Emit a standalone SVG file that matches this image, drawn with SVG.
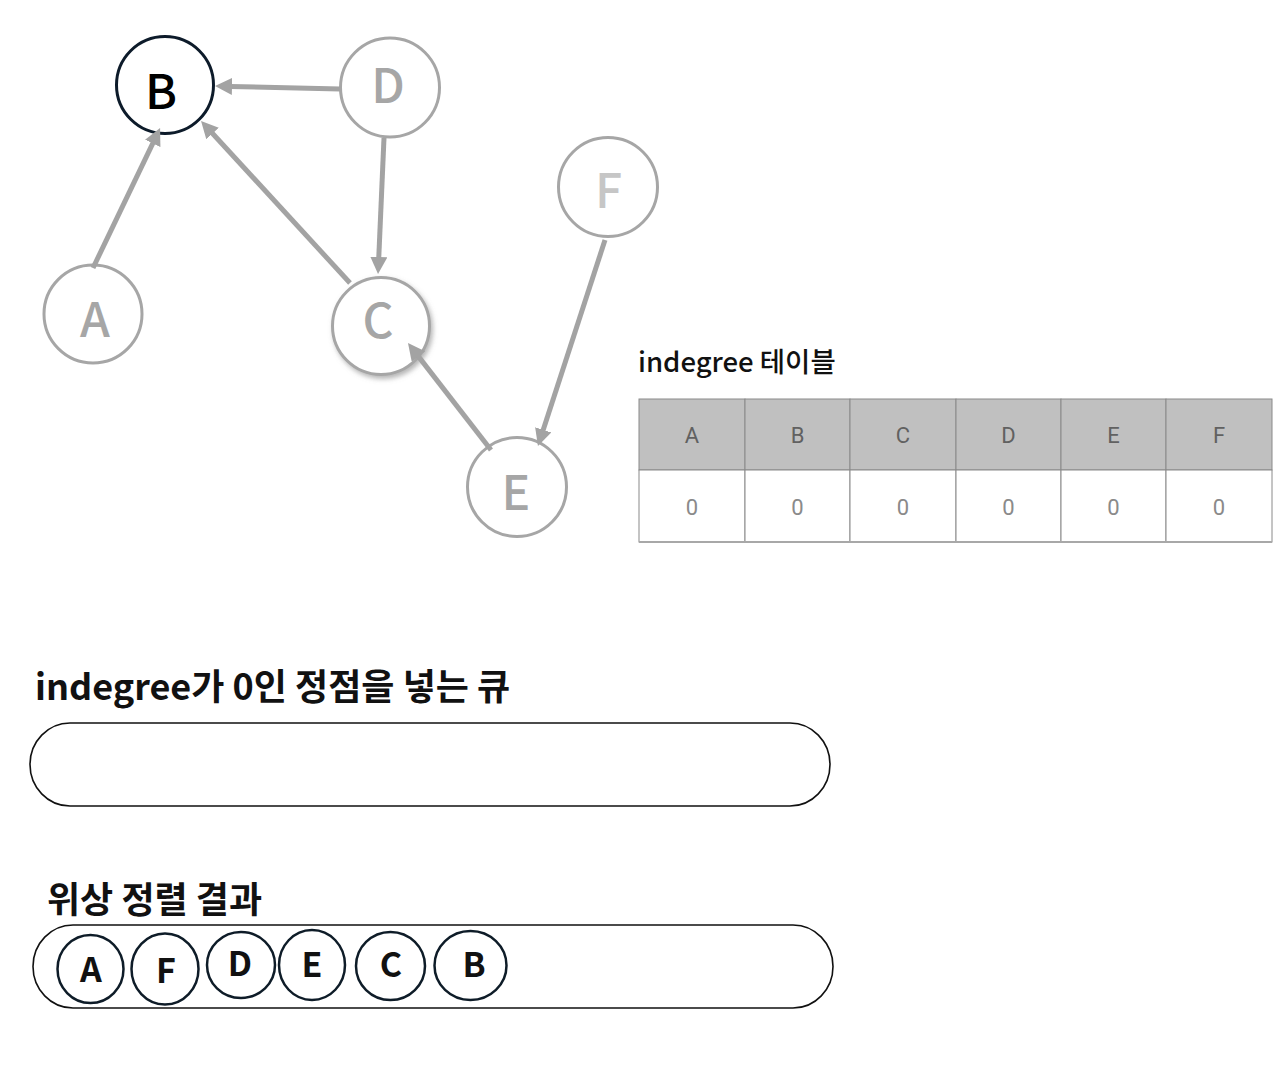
<svg xmlns="http://www.w3.org/2000/svg" width="1280" height="1080" viewBox="0 0 1280 1080">
  <style>
    .kr { font-family: "Noto Sans CJK KR", "Noto Sans", sans-serif; }
    .gnode { fill: #ffffff; stroke: #a6a6a6; stroke-width: 3; }
    .glabel { font-family: "Noto Sans CJK KR", "Noto Sans", sans-serif; font-size: 48px; font-weight: 500; fill: #a6a6a6; text-anchor: middle; }
    .edge { stroke: #a3a3a3; stroke-width: 5; fill: none; marker-end: url(#arrow); }
    .th { fill: #c0c0c0; stroke: #8a8a8a; stroke-width: 1; }
    .td { fill: #ffffff; stroke: #8a8a8a; stroke-width: 1; }
    .tht { font-family: Roboto, "Liberation Sans", sans-serif; font-size: 22px; fill: #616161; text-anchor: middle; }
    .tdt { font-family: Roboto, "Liberation Sans", sans-serif; font-size: 22px; fill: #8a8a8a; text-anchor: middle; }
    .title { font-family: "Noto Sans CJK KR", "Noto Sans", sans-serif; font-weight: 700; font-size: 36px; fill: #111111; }
    .box { fill: #ffffff; stroke: #111111; stroke-width: 1.6; }
    .rnode { fill: #ffffff; stroke: #0e1c28; stroke-width: 2.5; }
    .rlabel { font-family: "Noto Sans CJK KR", "Noto Sans", sans-serif; font-weight: 700; font-size: 34px; fill: #111111; text-anchor: middle; }
  </style>
  <defs>
    <marker id="arrow" markerUnits="userSpaceOnUse" markerWidth="18" markerHeight="17" refX="2" refY="8.5" orient="auto">
      <path d="M0,0 L17,8.5 L0,17 Z" fill="#a3a3a3"/>
    </marker>
    <filter id="glow" x="-30%" y="-30%" width="160%" height="160%">
      <feDropShadow dx="2" dy="3" stdDeviation="2.5" flood-color="#7a7a7a" flood-opacity="0.55"/>
    </filter>
  </defs>

  <rect x="0" y="0" width="1280" height="1080" fill="#ffffff"/>

  <!-- Graph nodes -->
  <g id="node-B">
    <circle cx="165" cy="85" r="48.5" fill="#ffffff" stroke="#0d1b2a" stroke-width="3"/>
    <text x="161" y="109" class="kr" font-size="48" font-weight="500" fill="#000000" text-anchor="middle">B</text>
  </g>
  <g id="node-D">
    <circle class="gnode" cx="390" cy="87.5" r="49.5"/>
    <text class="glabel" x="388" y="103">D</text>
  </g>
  <g id="node-F">
    <circle class="gnode" cx="608" cy="187" r="49.5"/>
    <text class="glabel" x="608.5" y="208" style="fill:#c6c6c6">F</text>
  </g>
  <g id="node-A">
    <circle class="gnode" cx="93" cy="314" r="49"/>
    <text class="glabel" x="95" y="337">A</text>
  </g>
  <g id="node-C">
    <circle class="gnode" cx="381" cy="326" r="48.5" filter="url(#glow)"/>
    <text class="glabel" x="378" y="338">C</text>
  </g>
  <g id="node-E">
    <circle class="gnode" cx="517" cy="487" r="49.5"/>
    <text class="glabel" x="516" y="510">E</text>
  </g>

  <!-- Connectors -->
  <g id="connectors">
    <line class="edge" x1="340" y1="89" x2="230" y2="86.4"/>
    <line class="edge" x1="93" y1="268" x2="153.6" y2="141.6"/>
    <line class="edge" x1="350" y1="283" x2="211.2" y2="132"/>
    <line class="edge" x1="384" y1="138" x2="378.7" y2="259"/>
    <line class="edge" x1="491" y1="450" x2="417.2" y2="354.9"/>
    <line class="edge" x1="605" y1="240" x2="542.6" y2="431.7"/>
  </g>

  <!-- Indegree table -->
  <g id="indegree-table">
    <text x="638" y="372" class="kr" font-size="27.5" font-weight="500" fill="#111111">indegree 테이블</text>
    <rect class="th" x="639" y="399" width="106" height="71"/>
    <rect class="th" x="745" y="399" width="105" height="71"/>
    <rect class="th" x="850" y="399" width="106" height="71"/>
    <rect class="th" x="956" y="399" width="105" height="71"/>
    <rect class="th" x="1061" y="399" width="105" height="71"/>
    <rect class="th" x="1166" y="399" width="106" height="71"/>
    <rect class="td" x="639" y="470" width="106" height="72"/>
    <rect class="td" x="745" y="470" width="105" height="72"/>
    <rect class="td" x="850" y="470" width="106" height="72"/>
    <rect class="td" x="956" y="470" width="105" height="72"/>
    <rect class="td" x="1061" y="470" width="105" height="72"/>
    <rect class="td" x="1166" y="470" width="106" height="72"/>
    <line x1="639" y1="542" x2="1272" y2="542" stroke="#a8a8a8" stroke-width="2"/>
    <text class="tht" x="692" y="443">A</text>
    <text class="tht" x="797.5" y="443">B</text>
    <text class="tht" x="903" y="443">C</text>
    <text class="tht" x="1008.5" y="443">D</text>
    <text class="tht" x="1113.5" y="443">E</text>
    <text class="tht" x="1219" y="443">F</text>
    <text class="tdt" x="692" y="515">0</text>
    <text class="tdt" x="797.5" y="515">0</text>
    <text class="tdt" x="903" y="515">0</text>
    <text class="tdt" x="1008.5" y="515">0</text>
    <text class="tdt" x="1113.5" y="515">0</text>
    <text class="tdt" x="1219" y="515">0</text>
  </g>

  <!-- Queue -->
  <g id="queue">
    <text class="title" x="35" y="700">indegree가 0인 정점을 넣는 큐</text>
    <rect class="box" x="30" y="723" width="800" height="83" rx="40" ry="41.5"/>
  </g>

  <!-- Topological sort result -->
  <g id="result">
    <text class="title" x="47" y="913">위상 정렬 결과</text>
    <rect class="box" x="33" y="925" width="800" height="83" rx="40" ry="41.5"/>
  </g>
  <g id="result-A">
    <ellipse class="rnode" cx="90.5" cy="969" rx="33" ry="34"/>
    <text class="rlabel" x="91" y="982">A</text>
  </g>
  <g id="result-F">
    <ellipse class="rnode" cx="165" cy="969" rx="33.5" ry="35.5"/>
    <text class="rlabel" x="166" y="983">F</text>
  </g>
  <g id="result-D">
    <ellipse class="rnode" cx="241" cy="965" rx="34" ry="33"/>
    <text class="rlabel" x="240" y="976">D</text>
  </g>
  <g id="result-E">
    <ellipse class="rnode" cx="312" cy="965" rx="33" ry="35"/>
    <text class="rlabel" x="312" y="977">E</text>
  </g>
  <g id="result-C">
    <ellipse class="rnode" cx="390.5" cy="966" rx="34.5" ry="34"/>
    <text class="rlabel" x="391" y="977">C</text>
  </g>
  <g id="result-B">
    <ellipse class="rnode" cx="470.5" cy="965.5" rx="36" ry="34.5"/>
    <text class="rlabel" x="474" y="977">B</text>
  </g>
</svg>
